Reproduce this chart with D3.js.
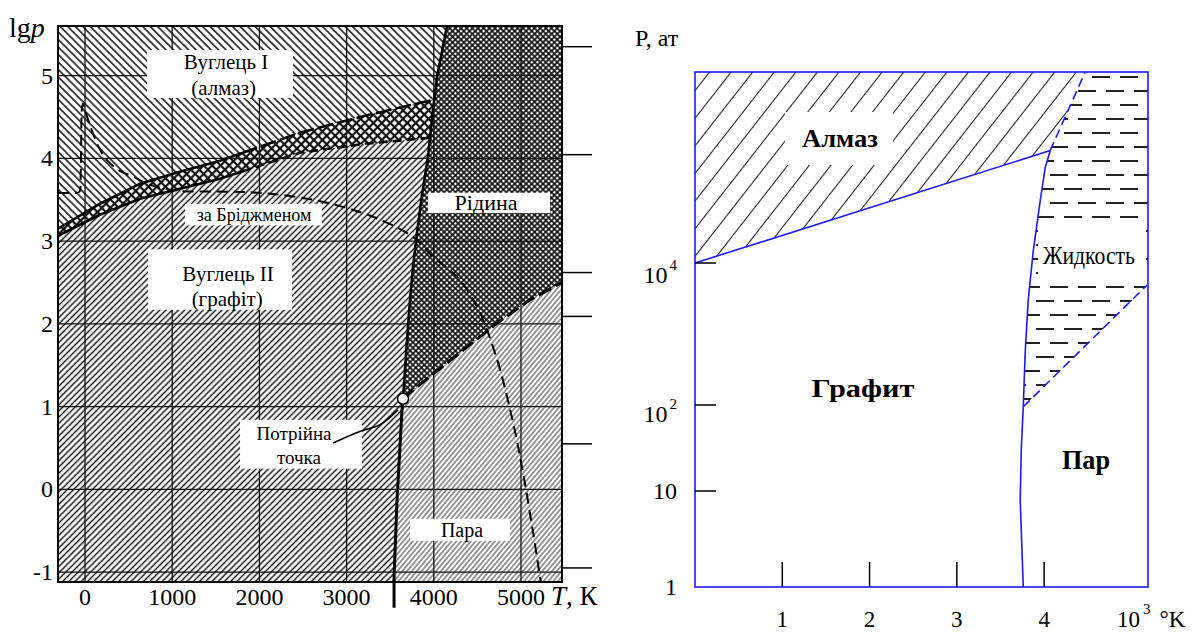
<!DOCTYPE html>
<html><head><meta charset="utf-8">
<script src="https://cdn.jsdelivr.net/npm/d3@7/dist/d3.min.js"></script>
<style>html,body{margin:0;padding:0;background:#fff;}svg{display:block;}</style>
</head><body>
<svg id="chart" width="1196" height="634"></svg>
<script>
// ===== Left panel: T (K) vs lg p =====
const leftTTicks = [0, 1000, 2000, 3000, 4000, 5000];
const leftLgpTicks = [-1, 0, 1, 2, 3, 4, 5];
const leftOuterTicks = [5.35, 4.045, 2.62, 2.09, 0.55, -0.95];
const bandUpper = [[-310,3.15],[172,3.452],[631,3.694],[1089,3.839],[1548,3.972],[2007,4.141],[2466,4.31],[3211,4.516],[4000,4.71]];
const bandLower = [[-310,3.065],[172,3.319],[631,3.512],[1089,3.633],[1548,3.754],[2007,3.911],[2466,4.068],[3211,4.177],[3960,4.25]];
const bridgman = [[-310,3.585],[-90,3.585],[-62,3.60],[-50,3.80],[-44,4.20],[-36,4.60],[-25,4.66],[0,4.58],[57,4.40],[150,4.15],[252,3.98],[400,3.85],[550,3.78],[745,3.68],[1055,3.61],[1500,3.60],[1892,3.59],[2236,3.56],[2615,3.50],[3005,3.40],[3383,3.26],[3761,3.05],[3991,2.81],[4266,2.57],[4495,2.21],[4725,1.57],[4908,0.81],[5023,0.20],[5138,-0.52],[5218,-1.06],[5229,-1.13]];
const meltLine = [[3647,1.095],[3693,1.81],[3727,2.29],[3761,2.69],[3807,3.10],[3865,3.56],[3933,4.02],[3991,4.59],[4037,4.99],[4151,5.6]];
const sublLine = [[3647,1.095],[3635,0.96],[3578,-0.13],[3544,-1.06],[3544,-1.43]];
const boilLine = [[3647,1.095],[3761,1.20],[4725,2.01],[5103,2.29],[5470,2.50]];
const triplePoint = [3647, 1.095];
const leaderLine = [[2844,0.56],[3150,0.70],[3383,0.78],[3589,0.96]];
const leftTexts = ["Вуглець I","(алмаз)","за Бріджменом","Вуглець II","(графіт)","Рідина","Потрійна","точка","Пара"];

// ===== Right panel: T (10^3 K) vs log10 P (at) =====
const rightTTicks = [1, 2, 3, 4];
const rightPExp = [0, 1, 2, 4];
const diamondGraphite = [[0,4.0],[4.07,5.59]];
const diamondLiquid = [[4.07,5.59],[4.47,6.7]];
const graphiteLiquid = [[4.07,5.59],[4.013,5.35],[3.956,4.89],[3.876,4.18],[3.818,3.48],[3.784,2.77],[3.761,1.98]];
const graphiteVapor = [[3.761,1.98],[3.738,1.48],[3.726,0.906],[3.75,0.28],[3.761,0]];
const liquidVapor = [[3.761,1.98],[5.18,3.69]];
const rightTexts = ["Алмаз","Графит","Жидкость","Пар"];

const FONT = '"Liberation Serif","Times New Roman",serif';
const svg = d3.select("#chart");
const defs = svg.append("defs");

function hatch(id, s, angle, w, color, cross) {
  const p = defs.append("pattern").attr("id", id).attr("patternUnits","userSpaceOnUse")
    .attr("width", s).attr("height", s).attr("patternTransform", `rotate(${angle})`);
  p.append("rect").attr("width", s).attr("height", s).attr("fill", "#fff");
  p.append("line").attr("x1", s/2).attr("y1", 0).attr("x2", s/2).attr("y2", s)
    .attr("stroke", color).attr("stroke-width", w);
  if (cross) p.append("line").attr("x1", 0).attr("y1", s/2).attr("x2", s).attr("y2", s/2)
    .attr("stroke", color).attr("stroke-width", w);
}
hatch("pGraphite", 4.4, 45, 1.5, "#111", false);
hatch("pDiamond", 5.3, -45, 1.5, "#111", false);
hatch("pVapor", 3.7, 40, 1.0, "#333", false);
hatch("pLiquid", 4.0, 45, 1.7, "#111", true);
hatch("pBand", 6.0, 45, 2.2, "#111", true);
hatch("pRDiamond", 17, 38, 1.1, "#222", false);
{
  const p = defs.append("pattern").attr("id","pRLiquid").attr("patternUnits","userSpaceOnUse")
    .attr("x",0).attr("y",70).attr("width",28).attr("height",28);
  p.append("rect").attr("width",28).attr("height",28).attr("fill","#fff");
  const st = (x1,y,x2)=>p.append("line").attr("x1",x1).attr("x2",x2).attr("y1",y).attr("y2",y).attr("stroke","#222").attr("stroke-width",2);
  st(0,7,18); st(14,21,28); st(0,21,4);
}

// ---------- LEFT PANEL ----------
const xL = d3.scaleLinear().domain([-310,5470]).range([58,562]);
const yL = d3.scaleLinear().domain([-1.12,5.6]).range([582,26]);
const [T0,T1] = xL.domain(), [L0,L1] = yL.domain();
const lineL = d3.line().x(d=>xL(d[0])).y(d=>yL(d[1]));
const polyL = pts => lineL(pts) + "Z";

defs.append("clipPath").attr("id","clipL").append("rect")
  .attr("x",xL(T0)).attr("y",yL(L1)).attr("width",xL(T1)-xL(T0)).attr("height",yL(L0)-yL(L1));

const meltRev = meltLine.slice().reverse();
const sublIn = sublLine.filter(d=>d[1]>=L0);
const solidSide = [[T0,L0],[T0,L1]].concat(meltRev, sublIn.slice(1), [[sublIn[sublIn.length-1][0],L0]]);
defs.append("clipPath").attr("id","clipSolid").append("path").attr("d", polyL(solidSide));

const gL = svg.append("g").attr("clip-path","url(#clipL)");
const gS = gL.append("g").attr("clip-path","url(#clipSolid)");
gS.append("rect").attr("x",xL(T0)).attr("y",yL(L1)).attr("width",xL(T1)-xL(T0)).attr("height",yL(L0)-yL(L1)).attr("fill","url(#pGraphite)");
const diamondPoly = [[T0,L1],[T1,L1],[T1,bandUpper[bandUpper.length-1][1]]].concat(bandUpper.slice().reverse());
gS.append("path").attr("d", polyL(diamondPoly)).attr("fill","url(#pDiamond)");
const bandPoly = bandUpper.concat([[T1,bandUpper[bandUpper.length-1][1]],[T1,bandLower[bandLower.length-1][1]]], bandLower.slice().reverse());
gS.append("path").attr("d", polyL(bandPoly)).attr("fill","url(#pBand)");

const liquidPoly = meltLine.concat([[T1,L1],[T1,boilLine[boilLine.length-1][1]]], boilLine.slice().reverse());
gL.append("path").attr("d", polyL(liquidPoly)).attr("fill","url(#pLiquid)");
const vaporPoly = boilLine.concat([[T1,L0],[sublIn[sublIn.length-1][0],L0]], sublIn.slice().reverse());
gL.append("path").attr("d", polyL(vaporPoly)).attr("fill","url(#pVapor)");

// grid
leftTTicks.forEach(t=>gL.append("line").attr("x1",xL(t)).attr("x2",xL(t)).attr("y1",yL(L1)).attr("y2",yL(L0)).attr("stroke","#111").attr("stroke-width",1.3));
leftLgpTicks.forEach(v=>gL.append("line").attr("x1",xL(T0)).attr("x2",xL(T1)).attr("y1",yL(v)).attr("y2",yL(v)).attr("stroke","#111").attr("stroke-width",1.3));

// label boxes (annotation backgrounds, in data units)
const boxesL = [[711,2385,5.31,4.73],[1147,2718,3.45,3.19],[722,2374,2.90,2.17],[3933,5333,3.585,3.34],[1778,3177,0.84,0.25],[3727,4874,-0.356,-0.622]];
boxesL.forEach(b=>gL.append("rect").attr("x",xL(b[0])).attr("y",yL(b[2])).attr("width",xL(b[1])-xL(b[0])).attr("height",yL(b[3])-yL(b[2])).attr("fill","#fff"));

// band boundary lines: solid on the left, dashed on the right
const splitT = 1900;
defs.append("clipPath").attr("id","clipBandSolid").append("rect").attr("x",0).attr("y",0).attr("width",xL(splitT)).attr("height",634);
defs.append("clipPath").attr("id","clipBandDash").append("rect").attr("x",xL(splitT)).attr("y",0).attr("width",1196).attr("height",634);
const cr = d3.line().x(d=>xL(d[0])).y(d=>yL(d[1])).curve(d3.curveCatmullRom.alpha(0.5));
[[bandUpper,"16,4"],[bandLower,"9,5"]].forEach(([arr,dash])=>{
  gL.append("g").attr("clip-path","url(#clipBandSolid)").append("path").attr("d",lineL(arr)).attr("fill","none").attr("stroke","#000").attr("stroke-width",2.6);
  gL.append("g").attr("clip-path","url(#clipBandDash)").append("path").attr("d",lineL(arr)).attr("fill","none").attr("stroke","#000").attr("stroke-width",2.6).attr("stroke-dasharray",dash);
});
gL.append("path").attr("d", cr(bridgman)).attr("fill","none").attr("stroke","#000").attr("stroke-width",2).attr("stroke-dasharray","11,6");
gL.append("path").attr("d", lineL(meltLine)).attr("fill","none").attr("stroke","#000").attr("stroke-width",2.6);
gL.append("path").attr("d", lineL(boilLine)).attr("fill","none").attr("stroke","#000").attr("stroke-width",3).attr("stroke-dasharray","14,5");
svg.append("path").attr("d", lineL(sublLine)).attr("fill","none").attr("stroke","#000").attr("stroke-width",3);
svg.append("path").attr("d", cr(leaderLine)).attr("fill","none").attr("stroke","#000").attr("stroke-width",1.6);
svg.append("rect").attr("x",xL(T0)).attr("y",yL(L1)).attr("width",xL(T1)-xL(T0)).attr("height",yL(L0)-yL(L1)).attr("fill","none").attr("stroke","#000").attr("stroke-width",2);
svg.append("circle").attr("cx",xL(triplePoint[0])).attr("cy",yL(triplePoint[1])).attr("r",5.5).attr("fill","#fff").attr("stroke","#000").attr("stroke-width",1.5);
leftOuterTicks.forEach(v=>svg.append("line").attr("x1",xL(T1)).attr("x2",xL(T1)+30).attr("y1",yL(v)).attr("y2",yL(v)).attr("stroke","#000").attr("stroke-width",1.5));

const tl = (x,y,txt,size,anchor)=>svg.append("text").attr("x",x).attr("y",y).attr("font-family",FONT).attr("font-size",size).attr("text-anchor",anchor||"middle").attr("fill","#000").text(txt);
leftTTicks.forEach(t=>tl(xL(t), 605, String(t), 24));
leftLgpTicks.forEach(v=>tl(53, yL(v)+8, String(v), 24, "end"));
{
  const t = svg.append("text").attr("x",9).attr("y",37).attr("font-family",FONT).attr("font-size",28);
  t.append("tspan").text("lg");
  t.append("tspan").attr("font-style","italic").text("p");
  const t2 = svg.append("text").attr("x",551).attr("y",605).attr("font-family",FONT).attr("font-size",27);
  t2.append("tspan").attr("font-style","italic").text("T");
  t2.append("tspan").text(", К");
}
const lab = (T,l,txt,size)=>svg.append("text").attr("x",xL(T)).attr("y",yL(l)).attr("dominant-baseline","central").attr("text-anchor","middle").attr("font-family",FONT).attr("font-size",size).text(txt);
lab(1617,5.17,leftTexts[0],21);
lab(1590,4.85,leftTexts[1],21);
lab(1938,3.32,leftTexts[2],18);
lab(1640,2.60,leftTexts[3],21);
lab(1630,2.30,leftTexts[4],21);
lab(4599,3.464,leftTexts[5],22);
lab(2397,0.67,leftTexts[6],19);
lab(2454,0.39,leftTexts[7],19);
lab(4323,-0.488,leftTexts[8],20);

// ---------- RIGHT PANEL ----------
const xR = d3.scaleLinear().domain([0,5.19]).range([695,1148]);
const yR = d3.scaleLinear().domain([0,1,2,4,6.7]).range([587,491,405,263,72]);
const RT0=0, RT1=5.19, RL0=0, RL1=6.7;
const lineR = d3.line().x(d=>xR(d[0])).y(d=>yR(d[1]));
const polyR = pts => lineR(pts)+"Z";

svg.append("path").attr("d", polyR([[RT0,RL1],[diamondLiquid[1][0],RL1],diamondLiquid[0],diamondGraphite[0]])).attr("fill","url(#pRDiamond)");
svg.append("rect").attr("x",785).attr("y",112).attr("width",108).attr("height",53).attr("fill","#fff");

const rLiquidPoly = graphiteLiquid.slice().reverse().concat([diamondLiquid[1],[RT1,RL1],[RT1,liquidVapor[1][1]]]);
svg.append("path").attr("d", polyR(rLiquidPoly)).attr("fill","url(#pRLiquid)");
svg.append("rect").attr("x",1038).attr("y",226).attr("width",108).attr("height",55).attr("fill","#fff");

const blue = "#1a1aff";
svg.append("path").attr("d", lineR(diamondGraphite)).attr("fill","none").attr("stroke",blue).attr("stroke-width",1.6);
svg.append("path").attr("d", lineR(diamondLiquid)).attr("fill","none").attr("stroke",blue).attr("stroke-width",1.6).attr("stroke-dasharray","9,5");
svg.append("path").attr("d", lineR(graphiteLiquid)).attr("fill","none").attr("stroke",blue).attr("stroke-width",1.6);
svg.append("path").attr("d", lineR(graphiteVapor)).attr("fill","none").attr("stroke",blue).attr("stroke-width",1.6);
svg.append("path").attr("d", lineR(liquidVapor)).attr("fill","none").attr("stroke",blue).attr("stroke-width",1.6).attr("stroke-dasharray","9,5");
svg.append("rect").attr("x",xR(RT0)).attr("y",yR(RL1)).attr("width",xR(RT1)-xR(RT0)).attr("height",yR(RL0)-yR(RL1)).attr("fill","none").attr("stroke",blue).attr("stroke-width",1.6);

rightTTicks.forEach(t=>svg.append("line").attr("x1",xR(t)).attr("x2",xR(t)).attr("y1",yR(0)).attr("y2",yR(0)-25).attr("stroke","#000").attr("stroke-width",1.5));
rightPExp.filter(e=>e>0).forEach(e=>svg.append("line").attr("x1",xR(0)).attr("x2",xR(0)+21).attr("y1",yR(e)).attr("y2",yR(e)).attr("stroke","#000").attr("stroke-width",1.5));
rightTTicks.forEach(t=>tl(xR(t), 627, String(t), 23));
rightPExp.forEach(e=>{
  const sup = e>1;
  const t = svg.append("text").attr("x",677).attr("y",yR(e)+8+(sup?(e===4?12:9):0)).attr("font-family",FONT).attr("font-size",24).attr("text-anchor","end");
  t.append("tspan").text(e===0?"1":"10");
  if (sup) t.append("tspan").attr("dy",-13).attr("dx",2).attr("font-size",15).text(String(e));
});
{
  const t = svg.append("text").attr("x",1117).attr("y",627).attr("font-family",FONT).attr("font-size",23);
  t.append("tspan").text("10");
  t.append("tspan").attr("dy",-13).attr("dx",3).attr("font-size",15).text("3");
  t.append("tspan").attr("dy",13).attr("dx",9).text("°K");
  tl(635, 46, "P, ат", 24, "start");
}
const rl = (x,y,txt,size,weight,len)=>{const t=svg.append("text").attr("x",x).attr("y",y).attr("dominant-baseline","central").attr("text-anchor","middle").attr("font-family",FONT).attr("font-size",size).attr("font-weight",weight).text(txt); if(len) t.attr("textLength",len).attr("lengthAdjust","spacingAndGlyphs"); return t;};
rl(840,138,rightTexts[0],26,"bold",76);
rl(863,388,rightTexts[1],26,"bold",103);
rl(1089,255,rightTexts[2],26,"normal",92);
rl(1086,460,rightTexts[3],27,"bold",48);
</script>
</body></html>
